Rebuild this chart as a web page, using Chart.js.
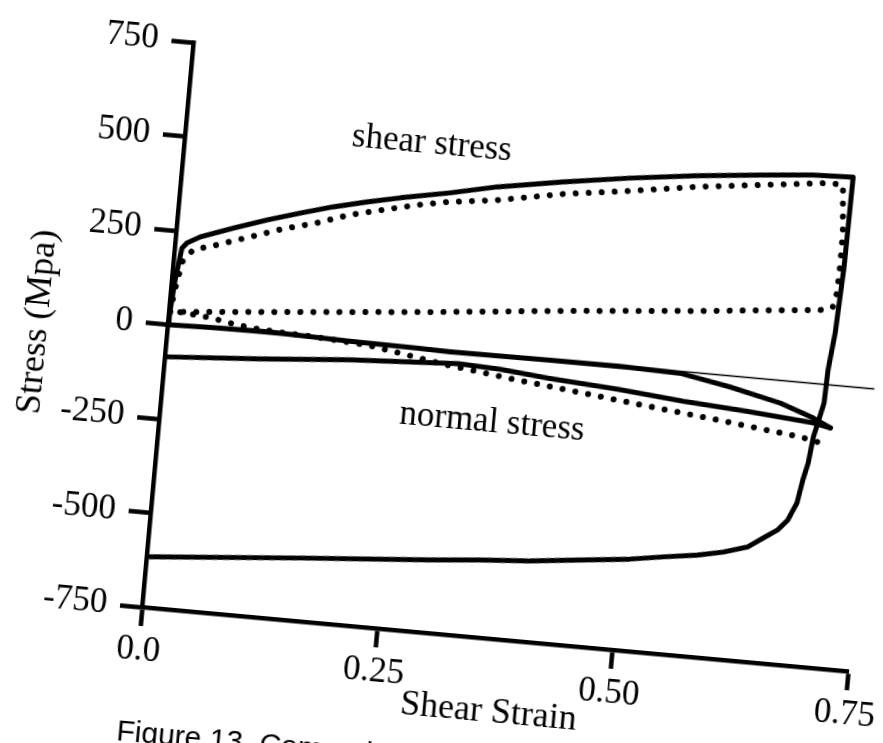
<!DOCTYPE html>
<html>
<head>
<meta charset="utf-8">
<script src="https://cdn.jsdelivr.net/npm/chart.js@4/dist/chart.umd.min.js"></script>
<style>
html,body{margin:0;padding:0;background:#fff;width:883px;height:743px;overflow:hidden}
#wrap{position:absolute;left:-40px;top:0;width:960px;height:800px;transform-origin:182px 607px;transform:rotate(5.2deg)}
canvas{display:block}
</style>
</head>
<body>
<div id="wrap"><canvas id="chart" width="960" height="800"></canvas></div>
<script>
// ---- tick values / labels ----
const xTickValues = [0, 0.25, 0.5, 0.75];
const xTickLabels = ['0.0', '0.25', '0.50', '0.75'];
const yTickValues = [-750, -500, -250, 0, 250, 500, 750];
const yTickLabels = ['-750', '-500', '-250', '0', '250', '500', '750'];

// ---- shear stress, experiment (solid): loading then reversal ----
const shearExpStrain = [0, 0.001, 0.0035, 0.0077, 0.0125, 0.026, 0.060, 0.095, 0.129, 0.163, 0.198, 0.233, 0.285, 0.334, 0.403, 0.473, 0.543, 0.613, 0.665, 0.708, 0.707, 0.704, 0.700, 0.699, 0.691, 0.688, 0.684, 0.680, 0.672, 0.662, 0.648, 0.632, 0.607, 0.580, 0.544, 0.509, 0.457, 0.404, 0.352, 0.299, 0.162, 0.004];
const shearExpStress = [0, 31, 119, 205, 220, 239, 270, 300, 326, 350, 371, 390, 415, 442, 471, 497, 519, 537, 549, 553, 314, 138, 39, -49, -141, -211, -257, -319, -366, -395, -419, -447, -466, -480, -493, -507, -521, -536, -545, -557, -583, -616];

// ---- shear stress, model (dotted) ----
const shearModStrain = [0, 0.004, 0.0096, 0.0138, 0.0195, 0.0443, 0.0783, 0.1123, 0.1475, 0.1815, 0.2158, 0.2512, 0.2825, 0.335, 0.404, 0.474, 0.544, 0.614, 0.684, 0.698, 0.7025, 0.7027, 0.702, 0.699, 0.693, 0.556, 0.415, 0.275, 0.138, 0.009];
const shearModStress = [0, 90, 170, 183, 203, 222, 251, 280, 304, 333, 354, 375, 390, 407, 439, 463, 490, 511, 532, 530, 403, 313, 244, 206, 197, 163, 131, 96, 65, 36];

// ---- normal stress, experiment (solid): loading branch ----
const normalExpLoadStrain = [0, 0.052, 0.108, 0.194, 0.265, 0.300, 0.406, 0.480, 0.544, 0.598, 0.653, 0.689, 0.708];
const normalExpLoadStress = [0, 3, 5, 0, -2, -4, -2, -1, -5, -29, -60, -91, -113];

// ---- normal stress, experiment (solid): reversal branch ----
const normalExpRevStrain = [0.708, 0.689, 0.618, 0.550, 0.480, 0.408, 0.354, 0.310, 0.195, 0.100, 0.002];
const normalExpRevStress = [-113, -104, -89, -78, -62, -50, -38, -33, -49, -68, -85];

// ---- normal stress, model (dotted) ----
const normalModStrain = [0.012, 0.046, 0.073, 0.101, 0.158, 0.212, 0.247, 0.294, 0.334, 0.373, 0.427, 0.481, 0.534, 0.588, 0.641, 0.677, 0.699];
const normalModStress = [36, 28, 16, 9, 3, -6, -19, -38, -50, -62, -76, -91, -105, -119, -134, -144, -155];

// ---- zero reference line ----
const zeroStrain = [0, 0.75];
const zeroStress = [0, 0];

// ---- in-plot labels ----
const noteTexts = ['shear stress', 'normal stress'];
const noteStrain = [0.261, 0.351];
const noteStress = [539, -181];
const captionText = 'Figure 13. Comparison';

const pts = (xs, ys) => xs.map((v, i) => ({x: v, y: ys[i]}));
const SERIF = '"Liberation Serif", "Times New Roman", serif';

const solid = {showLine: true, pointRadius: 0, borderColor: '#000', borderWidth: 5, borderJoinStyle: 'round', borderCapStyle: 'round', tension: 0, fill: false, clip: false};
const dotted = {showLine: true, pointRadius: 0, borderColor: '#000', borderWidth: 6, borderDash: [0.01, 13], borderCapStyle: 'round', tension: 0, fill: false, clip: false};

const notesPlugin = {
  id: 'notes',
  afterDatasetsDraw(chart) {
    const {ctx, scales: {x, y}, chartArea} = chart;
    ctx.save();
    ctx.fillStyle = '#000';
    ctx.font = '35px ' + SERIF;
    ctx.textAlign = 'center';
    ctx.textBaseline = 'middle';
    noteTexts.forEach((t, i) => ctx.fillText(t, x.getPixelForValue(noteStrain[i]), y.getPixelForValue(noteStress[i])));
    ctx.font = '30px "Liberation Sans", Arial, sans-serif';
    ctx.textAlign = 'left';
    ctx.textBaseline = 'top';
    ctx.fillText(captionText, chartArea.left - 14, chartArea.bottom + 112);
    ctx.restore();
  }
};

new Chart(document.getElementById('chart'), {
  type: 'scatter',
  data: {
    datasets: [
      Object.assign({label: 'zero', data: pts(zeroStrain, zeroStress)}, solid, {borderWidth: 1.5}),
      Object.assign({label: 'normal model', data: pts(normalModStrain, normalModStress)}, dotted),
      Object.assign({label: 'shear model', data: pts(shearModStrain, shearModStress)}, dotted),
      Object.assign({label: 'normal exp load', data: pts(normalExpLoadStrain, normalExpLoadStress)}, solid),
      Object.assign({label: 'normal exp reverse', data: pts(normalExpRevStrain, normalExpRevStress)}, solid),
      Object.assign({label: 'shear exp', data: pts(shearExpStrain, shearExpStress)}, solid)
    ]
  },
  options: {
    responsive: false,
    animation: false,
    devicePixelRatio: 1,
    layout: {padding: {top: 40, right: 69, bottom: 57, left: 0}},
    plugins: {legend: {display: false}, tooltip: {enabled: false}},
    scales: {
      x: {
        type: 'linear', min: 0, max: 0.75,
        afterBuildTicks(s) { s.ticks = xTickValues.map(v => ({value: v})); },
        afterFit(s) { s.height = 136; },
        grid: {drawOnChartArea: false, drawTicks: true, tickLength: 19, tickWidth: 4.5, tickColor: '#000', color: '#000'},
        border: {display: true, color: '#000', width: 4.5},
        ticks: {padding: 4, color: '#000', font: {family: SERIF, size: 35}, maxRotation: 0, autoSkip: false,
                callback: (v, i) => xTickLabels[i]},
        title: {display: true, text: 'Shear Strain', color: '#000', font: {family: SERIF, size: 36}, padding: {top: 0, bottom: 41}}
      },
      y: {
        type: 'linear', min: -750, max: 750,
        afterBuildTicks(s) { s.ticks = yTickValues.map(v => ({value: v})); },
        afterFit(s) { s.width = 182; },
        grid: {drawOnChartArea: false, drawTicks: true, tickLength: 22, tickWidth: 4.5, tickColor: '#000', color: '#000'},
        border: {display: true, color: '#000', width: 4.5},
        ticks: {padding: 13, color: '#000', font: {family: SERIF, size: 35}, autoSkip: false,
                callback: (v, i) => yTickLabels[i]},
        title: {display: true, text: 'Stress (Mpa)\u00A0\u00A0', color: '#000', font: {family: SERIF, size: 36}, padding: {top: 31, bottom: 0}}
      }
    }
  },
  plugins: [notesPlugin]
});
</script>
</body>
</html>
